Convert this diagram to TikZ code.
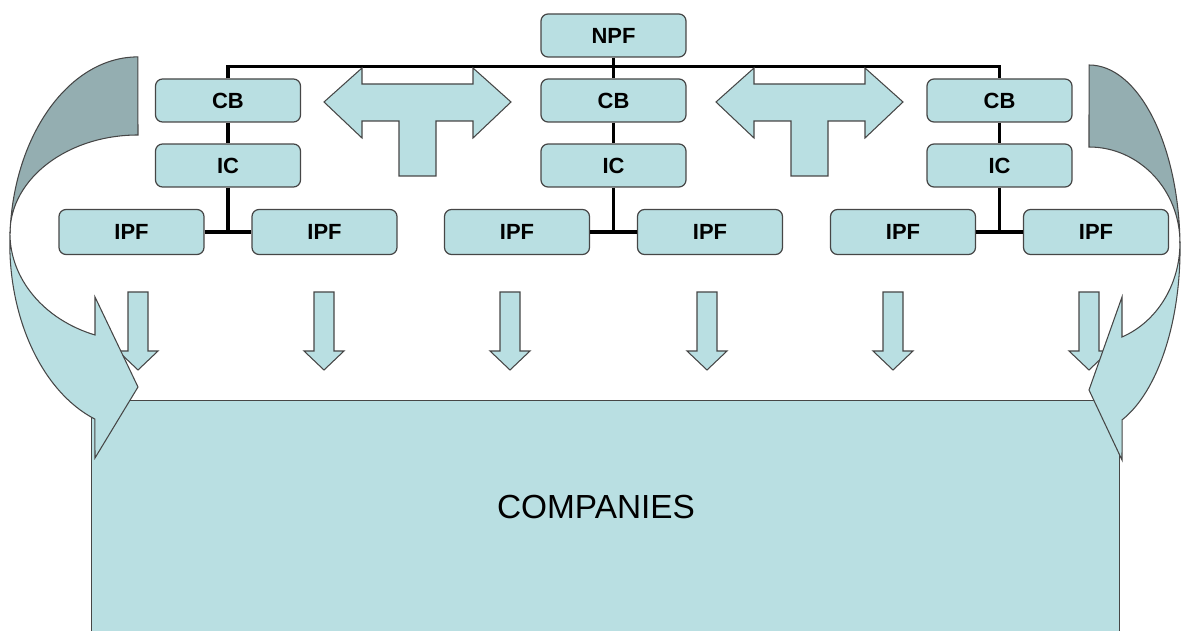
\documentclass[tikz,border=0pt]{standalone}
\usepackage{fontspec}
\setmainfont{Liberation Sans}
\usepackage{tikz}
\usetikzlibrary{positioning}
\definecolor{boxblue}{RGB}{185,223,226}
\definecolor{backblue}{RGB}{148,174,177}
\definecolor{edgegrey}{RGB}{70,70,70}

\begin{document}
\begin{tikzpicture}[x=0.02cm, y=-0.02cm,
    orgbox/.style={draw=edgegrey, line width=0.7pt, fill=boxblue, rounded corners=0.14cm,
      minimum width=2.9cm, minimum height=0.86cm, inner sep=0pt, font=\fontsize{12.5}{14}\selectfont\bfseries},
    orgline/.style={line width=2pt, black},
    arrowfill/.style={draw=edgegrey, line width=0.6pt, fill=boxblue, line join=miter},
    backfill/.style={draw=edgegrey, line width=0.6pt, fill=backblue}]
  \useasboundingbox (0,0) rectangle (1181,631);

  % org chart
  \node[orgbox] (npf) at (613.5,35.5) {NPF};
  \foreach \i/\cx in {1/228,2/613.5,3/999.5} {
    \node[orgbox] (cb\i) at (\cx,100.5) {CB};
    \node[orgbox] (ic\i) at (\cx,165.5) {IC};
    \node[orgbox, minimum height=0.9cm] (ipfl\i) at (\cx-96.5,232) {IPF};
    \node[orgbox, minimum height=0.9cm] (ipfr\i) at (\cx+96.5,232) {IPF};
    \draw[orgline] (cb\i.south) -- (ic\i.north);
    \draw[orgline] (ic\i.south) -- (ic\i.south |- ipfl\i.east);
    \draw[orgline] (ipfl\i.east) -- (ipfr\i.west);
  }
  \draw[orgline] (cb1.north) -- ++(0,-12) -| (cb3.north);
  \draw[orgline] (npf.south) -- (cb2.north);

  % two-way arrows between the groups
  \foreach \s in {0,392} {
    \draw[arrowfill, shift={(\s,0)}] (362,68) -- (324,102) -- (362,138) -- (362,121)
      -- (399,121) -- (399,176) -- (436,176) -- (436,121) -- (473,121) -- (473,138)
      -- (511,102) -- (473,68) -- (473,84) -- (362,84) -- cycle;
  }

  % companies
  \node[draw=edgegrey, line width=0.6pt, fill=boxblue, anchor=north west, inner sep=0pt,
    minimum width=20.56cm, minimum height=5cm] (comp) at (91,400) {};
  \node[font=\fontsize{19}{21}\selectfont] (comptext) at (596,507) {COMPANIES};

  % down arrows into companies
  \foreach \ax in {138,324,510,707,893,1089} {
    \draw[arrowfill] (\ax-10,292) -- (\ax+10,292) -- (\ax+10,351) -- (\ax+20,351)
      -- (\ax,370) -- (\ax-20,351) -- (\ax-10,351) -- cycle;
  }

  % left curved arrow
  \draw[backfill] (138,135) arc[start angle=270, end angle=180, x radius=128, y radius=98]
    arc[start angle=183.2, end angle=270, x radius=128, y radius=186.5] -- cycle;
  \draw[arrowfill] (10,233) arc[start angle=183.2, end angle=109.6, x radius=128, y radius=186.5]
    -- (95,458) -- (138,387) -- (95,297) -- (95,335)
    arc[start angle=109.6, end angle=180, x radius=128, y radius=108] -- cycle;

  % right curved arrow
  \draw[backfill] (1089,147) arc[start angle=-90, end angle=0, x radius=91, y radius=96]
    arc[start angle=-1.78, end angle=-90, x radius=91, y radius=183.7] -- cycle;
  \draw[arrowfill] (1180,243) arc[start angle=-1.78, end angle=68.7, x radius=91, y radius=183.7]
    -- (1122,460) -- (1089,390) -- (1122,297) -- (1122,337)
    arc[start angle=68.7, end angle=0, x radius=91, y radius=101] -- cycle;
\end{tikzpicture}
\end{document}
